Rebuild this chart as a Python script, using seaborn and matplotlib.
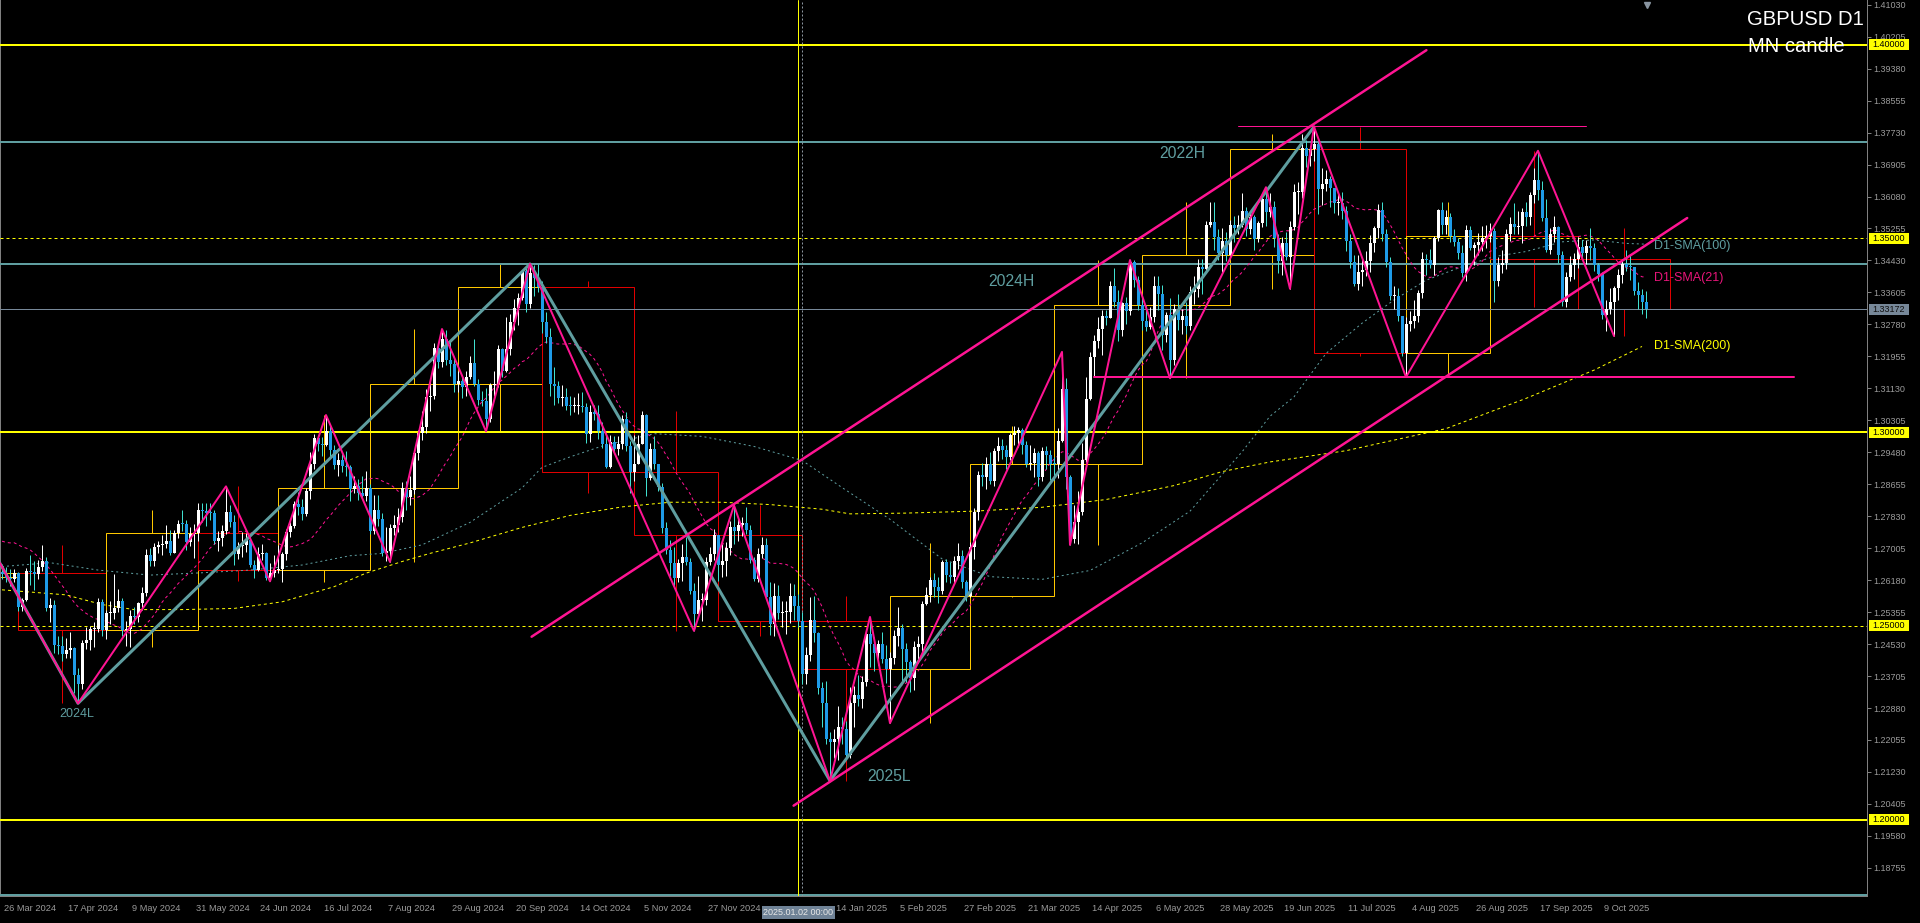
import numpy as np
import pandas as pd
import matplotlib
matplotlib.use("Agg")
import matplotlib.pyplot as plt
import matplotlib.transforms as mtransforms
from matplotlib.patches import Rectangle
import seaborn as sns

# ---------------- data (prices in 1e-4 units) ----------------
hist_start = "2024-03-01"
chart_start = "2024-03-26"
calendar_end = "2025-10-31"
holidays = ["2024-12-25", "2025-01-01"]

close_pips = [
    12634, 12624, 12622, 12637,
    12548, 12568, 12642, 12640, 12633, 12653, 12668, 12546, 12555, 12450, 12447, 12428, 12437, 12443, 12372, 12350, 12456, 12463, 12491, 12493, 12562, 12490,
    12532, 12534, 12545, 12563, 12490, 12492, 12525, 12524, 12558, 12586, 12683, 12667, 12704, 12708, 12710, 12720, 12689, 12739, 12764, 12763, 12716, 12736, 12740,
    12800, 12796, 12792, 12790, 12720, 12726, 12744, 12795, 12767, 12686, 12707, 12708, 12722, 12656, 12645, 12686, 12687, 12624, 12637, 12645,
    12647, 12686, 12743, 12759, 12815, 12806, 12789, 12847, 12917, 12985, 12969, 12967, 13004, 12955, 12915, 12927, 12913, 12909, 12854, 12860, 12844, 12836, 12855,
    12744, 12800, 12776, 12689, 12693, 12753, 12760, 12780, 12856, 12833, 12850, 12945, 12998, 13013, 13090, 13092, 13216, 13180, 13240, 13186, 13175, 13125,
    13131, 13116, 13143, 13178, 13124, 13083, 13081, 13035, 13121, 13123, 13214, 13158, 13215, 13284, 13320, 13347, 13415, 13331, 13411, 13397, 13375,
    13285, 13245, 13123, 13120, 13089, 13091, 13068, 13067, 13068, 13068, 13064, 12994, 13051, 13048, 13003, 12970, 12911, 12975, 12957, 12969, 13033, 12963, 12896,
    12918, 12969, 13044, 12882, 12957, 12917, 12858, 12753, 12696, 12661, 12624, 12663, 12677, 12665, 12590, 12530, 12566, 12567, 12665, 12686, 12735,
    12657, 12668, 12701, 12755, 12744, 12761, 12766, 12748, 12669, 12622, 12686, 12708, 12575, 12504, 12576, 12534, 12535, 12535, 12576, 12552, 12513,
    12375, 12425, 12515, 12482, 12340, 12302, 12208, 12200, 12207, 12239, 12235, 12167, 12300, 12322, 12311, 12355, 12480, 12454, 12430, 12453, 12415, 12389,
    12417, 12475, 12495, 12440, 12406, 12366, 12445, 12452, 12556, 12580, 12618, 12600, 12590, 12665, 12630, 12626, 12667, 12680, 12612, 12576,
    12703, 12793, 12890, 12884, 12917, 12875, 12950, 12965, 12955, 12935, 12992, 12999, 13006, 12967, 12918, 12920, 12946, 12885, 12952, 12941, 12919,
    12918, 12976, 13111, 12885, 12724, 12768, 12793, 12929, 13085, 13194, 13235, 13265, 13300, 13295, 13376, 13335, 13263, 13332, 13312, 13439, 13393, 13327,
    13288, 13272, 13298, 13376, 13357, 13250, 13303, 13186, 13318, 13290, 13300, 13275, 13361, 13370, 13425, 13421, 13535, 13543, 13504, 13461, 13492, 13457,
    13535, 13528, 13535, 13570, 13525, 13556, 13499, 13540, 13602, 13568, 13580, 13500, 13442, 13487, 13453, 13530, 13620, 13620, 13732, 13713, 13731,
    13744, 13628, 13641, 13652, 13629, 13590, 13591, 13571, 13492, 13440, 13382, 13414, 13418, 13441, 13487, 13527, 13573, 13512, 13438, 13350, 13351, 13300, 13203,
    13278, 13287, 13299, 13358, 13448, 13443, 13431, 13500, 13573, 13535, 13555, 13505, 13490, 13461, 13411, 13521, 13475, 13482, 13490, 13500, 13507,
    13520, 13390, 13431, 13437, 13510, 13538, 13530, 13533, 13567, 13555, 13611, 13650, 13624, 13553, 13470, 13510, 13530, 13456, 13335, 13401, 13431, 13448,
    13477, 13463, 13480, 13476, 13430, 13407, 13302, 13317, 13335, 13372, 13405, 13435, 13427, 13425, 13363, 13353, 13336, 13317,
]
high_pips = [
    12659, 12652, 12646, 12646,
    12640, 12571, 12650, 12682, 12668, 12669, 12709, 12679, 12572, 12568, 12474, 12474, 12468, 12483, 12446, 12391, 12464, 12498, 12500, 12509, 12571, 12570,
    12540, 12564, 12634, 12595, 12572, 12512, 12541, 12549, 12562, 12601, 12698, 12701, 12713, 12718, 12734, 12761, 12747, 12747, 12774, 12800, 12774, 12754, 12764,
    12817, 12818, 12818, 12818, 12800, 12745, 12760, 12860, 12812, 12787, 12716, 12742, 12740, 12738, 12670, 12703, 12712, 12690, 12661, 12682,
    12709, 12690, 12749, 12768, 12822, 12845, 12827, 12857, 12948, 12995, 12992, 12987, 13044, 13018, 12967, 12946, 12944, 12952, 12914, 12886, 12880, 12887, 12900,
    12867, 12839, 12839, 12792, 12754, 12763, 12785, 12805, 12872, 12873, 12888, 12954, 13005, 13054, 13111, 13131, 13229, 13226, 13266, 13264, 13232, 13194,
    13157, 13143, 13158, 13196, 13240, 13136, 13106, 13114, 13128, 13157, 13226, 13218, 13297, 13304, 13343, 13359, 13416, 13428, 13434, 13432, 13435,
    13389, 13311, 13269, 13169, 13132, 13122, 13113, 13092, 13090, 13100, 13104, 13075, 13071, 13071, 13069, 13025, 12997, 12993, 12989, 12990, 13043, 13051, 12977,
    12993, 12992, 13054, 13048, 12972, 12990, 12916, 12869, 12769, 12721, 12703, 12672, 12712, 12730, 12676, 12611, 12629, 12585, 12678, 12704, 12749,
    12719, 12711, 12716, 12771, 12811, 12779, 12781, 12807, 12760, 12679, 12702, 12730, 12727, 12614, 12610, 12606, 12563, 12565, 12611, 12607, 12583,
    12535, 12445, 12575, 12576, 12483, 12354, 12358, 12225, 12234, 12292, 12266, 12254, 12342, 12345, 12373, 12370, 12490, 12523, 12471, 12464, 12484, 12451,
    12432, 12489, 12549, 12506, 12457, 12412, 12460, 12475, 12564, 12601, 12627, 12637, 12627, 12671, 12672, 12666, 12681, 12715, 12697, 12619,
    12716, 12805, 12900, 12921, 12937, 12948, 12958, 12988, 12983, 12968, 12999, 13015, 13014, 13010, 12978, 12966, 12960, 12952, 12962, 12965, 12953,
    12937, 13010, 13207, 13140, 12890, 12813, 12849, 12972, 13142, 13208, 13251, 13297, 13316, 13316, 13390, 13423, 13366, 13337, 13349, 13444, 13445, 13402,
    13346, 13327, 13323, 13402, 13402, 13380, 13310, 13345, 13330, 13357, 13317, 13335, 13376, 13402, 13446, 13446, 13544, 13594, 13593, 13523, 13526, 13516,
    13547, 13557, 13561, 13616, 13580, 13568, 13560, 13544, 13617, 13632, 13616, 13597, 13511, 13503, 13516, 13544, 13640, 13646, 13770, 13753, 13738,
    13788, 13750, 13681, 13677, 13662, 13625, 13620, 13620, 13584, 13511, 13456, 13456, 13451, 13467, 13508, 13532, 13589, 13595, 13523, 13452, 13376, 13371, 13294,
    13298, 13313, 13342, 13366, 13465, 13460, 13472, 13505, 13577, 13595, 13572, 13565, 13524, 13500, 13484, 13535, 13531, 13490, 13514, 13533, 13535,
    13540, 13527, 13453, 13470, 13523, 13555, 13591, 13570, 13579, 13593, 13619, 13681, 13726, 13647, 13601, 13528, 13558, 13532, 13467, 13414, 13455, 13461,
    13503, 13496, 13496, 13527, 13487, 13436, 13414, 13340, 13371, 13377, 13422, 13446, 13470, 13457, 13426, 13388, 13369, 13364,
]
low_pips = [
    12620, 12614, 12604, 12612,
    12539, 12538, 12564, 12606, 12593, 12620, 12642, 12538, 12509, 12431, 12427, 12409, 12416, 12418, 12326, 12300, 12337, 12440, 12437, 12446, 12485, 12473,
    12465, 12505, 12518, 12535, 12473, 12447, 12446, 12504, 12511, 12540, 12578, 12655, 12654, 12688, 12682, 12701, 12682, 12687, 12728, 12745, 12696, 12706, 12676,
    12718, 12767, 12758, 12773, 12711, 12694, 12705, 12736, 12756, 12656, 12673, 12678, 12690, 12653, 12624, 12642, 12670, 12618, 12615, 12626,
    12637, 12613, 12671, 12730, 12753, 12786, 12774, 12784, 12827, 12905, 12952, 12938, 12963, 12937, 12904, 12888, 12897, 12888, 12823, 12844, 12826, 12827, 12822,
    12737, 12736, 12758, 12681, 12668, 12665, 12734, 12741, 12769, 12798, 12812, 12840, 12929, 12979, 12999, 13055, 13085, 13165, 13168, 13172, 13146, 13103,
    13103, 13088, 13092, 13137, 13119, 13070, 13068, 13002, 13025, 13094, 13117, 13143, 13154, 13198, 13264, 13277, 13342, 13311, 13320, 13350, 13361,
    13256, 13229, 13093, 13069, 13076, 13068, 13056, 13043, 13051, 13047, 13052, 12973, 12975, 13032, 12983, 12960, 12907, 12908, 12945, 12940, 12957, 12950, 12844,
    12875, 12938, 12969, 12835, 12877, 12904, 12848, 12740, 12685, 12628, 12597, 12612, 12615, 12658, 12583, 12487, 12540, 12513, 12553, 12658, 12669,
    12615, 12626, 12628, 12682, 12710, 12718, 12731, 12737, 12662, 12615, 12612, 12675, 12570, 12476, 12475, 12519, 12497, 12479, 12508, 12516, 12496,
    12350, 12350, 12409, 12458, 12323, 12239, 12195, 12100, 12160, 12155, 12196, 12160, 12159, 12240, 12293, 12288, 12345, 12395, 12383, 12400, 12405, 12352,
    12249, 12402, 12449, 12357, 12356, 12330, 12334, 12403, 12430, 12553, 12561, 12575, 12560, 12583, 12612, 12611, 12608, 12646, 12599, 12565,
    12574, 12673, 12773, 12860, 12852, 12866, 12861, 12925, 12930, 12905, 12928, 12967, 12962, 12943, 12910, 12901, 12884, 12860, 12874, 12904, 12876,
    12877, 12882, 12974, 12853, 12709, 12714, 12710, 12786, 12922, 13084, 13145, 13218, 13200, 13277, 13294, 13324, 13234, 13248, 13280, 13302, 13375, 13315,
    13264, 13261, 13265, 13285, 13316, 13212, 13233, 13139, 13172, 13264, 13252, 13254, 13264, 13330, 13348, 13356, 13410, 13530, 13470, 13445, 13414, 13441,
    13459, 13491, 13510, 13530, 13505, 13510, 13470, 13490, 13530, 13533, 13554, 13477, 13410, 13406, 13444, 13370, 13522, 13562, 13604, 13683, 13687,
    13700, 13563, 13587, 13622, 13581, 13565, 13560, 13551, 13468, 13424, 13378, 13366, 13377, 13403, 13414, 13464, 13502, 13493, 13426, 13340, 13319, 13287, 13197,
    13142, 13262, 13269, 13285, 13347, 13405, 13423, 13406, 13493, 13512, 13510, 13490, 13480, 13447, 13401, 13389, 13470, 13432, 13458, 13468, 13476,
    13490, 13335, 13378, 13410, 13420, 13494, 13510, 13510, 13488, 13531, 13535, 13591, 13600, 13545, 13465, 13460, 13490, 13436, 13325, 13323, 13390, 13396,
    13424, 13445, 13433, 13445, 13415, 13390, 13292, 13261, 13305, 13248, 13340, 13384, 13415, 13392, 13355, 13318, 13306, 13295,
]
prev_close_pip = 12640          # close of 25 Mar 2024 (open of first bar)
month_open_first = 12625        # March 2024 monthly open
pre_closes_pips = [12690, 12650, 12625, 12653, 12688, 12707, 12736, 12806, 12857, 12858,
                   12793, 12795, 12742, 12736, 12722, 12718, 12788, 12652, 12600, 12640]

sma100_idx = [0, 12, 24, 37, 50, 62, 75, 87, 95, 105, 117, 130, 135, 142, 150, 163, 175, 188, 200, 210,
              222, 235, 247, 260, 272, 285, 297, 310, 317, 323, 331, 340, 348, 356, 365, 373, 381, 390, 398, 406, 411]
sma100_val = [1.2653, 1.2663, 1.2644, 1.2631, 1.2637, 1.2644, 1.2657, 1.2681, 1.2687, 1.2709, 1.2767, 1.2856, 1.2909,
              1.2936, 1.2964, 1.2996, 1.2989, 1.2963, 1.2927, 1.2857, 1.2775, 1.2673, 1.2627, 1.2620, 1.2643, 1.2714,
              1.2796, 1.2949, 1.3041, 1.3091, 1.3203, 1.3281, 1.3341, 1.3392, 1.3427, 1.3453, 1.3466, 1.3491, 1.3496,
              1.3487, 1.3485]
sma200_idx = [0, 16, 25, 33, 45, 58, 70, 83, 91, 100, 107, 117, 130, 142, 155, 167, 180, 192, 205, 212,
              226, 243, 260, 276, 293, 305, 317, 336, 361, 381, 398, 410]
sma200_val = [1.2593, 1.2580, 1.2555, 1.2542, 1.2542, 1.2545, 1.2562, 1.2601, 1.2636, 1.2666, 1.2687, 1.2714,
              1.2754, 1.2785, 1.2807, 1.2819, 1.2819, 1.2813, 1.2801, 1.2789, 1.2791, 1.2796, 1.2806, 1.2826,
              1.2862, 1.2898, 1.2923, 1.2952, 1.3009, 1.3087, 1.3160, 1.3221]

pink_zz_idx = [-13, 19, 56, 67, 81, 97, 110, 121, 132, 173, 183, 207, 217, 222, 265, 267, 282, 292, 316, 322, 328, 351, 384, 403]
pink_zz_val = [1.2893, 1.2300, 1.2860, 1.2615, 1.3044, 1.2665, 1.3266, 1.3002, 1.3434, 1.2487, 1.2811, 1.2100,
               1.2523, 1.2249, 1.3207, 1.2709, 1.3444, 1.3139, 1.3632, 1.3370, 1.3788, 1.3142, 1.3726, 1.3248]
teal_zz_idx = [-13, 19, 132, 207, 328]
teal_zz_val = [1.2893, 1.2300, 1.3434, 1.2100, 1.3788]

channel_upper = ([132.4, 356.1], [1.2472, 1.39856])
channel_lower = ([197.9, 421.3], [1.2036, 1.35525])
range_top = ([309, 396], [1.3791, 1.3791])
range_bottom = ([273, 448], [1.3142, 1.3142])

round_levels_solid = [1.40, 1.30, 1.20]
round_levels_dashed = [1.35, 1.25]
year_levels = [1.3749, 1.3434]
bid_price = 1.33172
tick_prices = [round(1.41030 - k * 0.00825, 5) for k in range(28)]

swing_labels = [("2022H", 295, 1.3720, 11.3), ("2024H", 252.25, 1.3389, 11.3),
                ("2024L", 18.75, 1.2272, 9.0), ("2025L", 221.75, 1.2112, 11.3)]
sma_labels = [("D1-SMA(100)", 1.34801, "#5F9EA0"), ("D1-SMA(21)", 1.33969, "#E8157A"),
              ("D1-SMA(200)", 1.32222, "#FFFF00")]
crosshair_bar = 200
crosshair_text = "2025.01.02 00:00"

# ---------------- derived ----------------
all_dates = pd.bdate_range(hist_start, calendar_end)
all_dates = all_dates[~all_dates.isin(pd.to_datetime(holidays))]
offset = all_dates.get_loc(pd.Timestamp(chart_start))
n = len(close_pips)
dates = all_dates[offset:offset + n]

c = np.array(close_pips) / 1e4
o = np.r_[prev_close_pip / 1e4, c[:-1]]
h = np.maximum.reduce([np.array(high_pips) / 1e4, o, c])
l = np.minimum.reduce([np.array(low_pips) / 1e4, o, c])
x = np.arange(n)

sma21 = pd.Series(np.r_[np.array(pre_closes_pips) / 1e4, c]).rolling(21).mean().values[-n:]

# ---------------- figure ----------------
sns.set_style("dark", {"axes.facecolor": "black", "figure.facecolor": "black"})
plt.rcParams["font.family"] = ["Liberation Sans", "DejaVu Sans"]

W, H = 1920, 923
PPU = 3875.0  # pixels per price unit
fig = plt.figure(figsize=(W / 100, H / 100), dpi=100, facecolor="black")
ax_right_px, ax_bottom_px = 1867, 896
ax = fig.add_axes([0, (H - ax_bottom_px) / H, ax_right_px / W, ax_bottom_px / H])
ax.set_facecolor("black")
ax.grid(False)
y_top = 1.41030 + 4.7 / PPU
y_bot = 1.41030 - (ax_bottom_px - 4.7) / PPU
ax.set_xlim(-0.5, (ax_right_px - 2) / 4)
ax.set_ylim(y_bot, y_top)

PX = 0.72  # one pixel in points

# horizontal levels
for p in round_levels_solid:
    ax.axhline(p, color="#FFFF00", lw=2 * PX, zorder=3)
for p in round_levels_dashed:
    ax.axhline(p, color="#FFFF00", lw=1 * PX, dashes=(3, 3), zorder=3)
for p in year_levels:
    ax.axhline(p, color="#5F9EA0", lw=2 * PX, zorder=3)
ax.axhline(bid_price, color="#778899", lw=1 * PX, zorder=3)
ax.axhline(y_bot + 1.5 / PPU, color="#5F9EA0", lw=2 * PX, zorder=3)

# vertical lines
ax.axvline(crosshair_bar - 1, color="#FFFF00", lw=1 * PX, zorder=3)
ax.axvline(crosshair_bar, color="#8C96A0", lw=1 * PX, dashes=(2, 2), zorder=3)

# monthly candles
per = all_dates.to_period("M")
for pm in per.unique():
    sel = np.where(per == pm)[0] - offset
    first, last = sel.min(), sel.max()
    inview = sel[(sel >= 0) & (sel < n)]
    if len(inview) == 0:
        continue
    mo = month_open_first / 1e4 if first < 0 else o[inview[0]]
    mc = c[inview[-1]]
    mh, ml = h[inview].max(), l[inview].min()
    col = "#FFC800" if mc >= mo else "#E00000"
    lo_b, hi_b = min(mo, mc), max(mo, mc)
    ax.add_patch(Rectangle((first, lo_b), last + 1 - first, max(hi_b - lo_b, 1 / PPU),
                           fill=False, edgecolor=col, lw=1 * PX, zorder=2))
    mid = (first + last + 1) / 2
    ax.vlines([mid, mid], [hi_b, ml], [mh, lo_b], color=col, lw=1 * PX, zorder=2)

# moving averages (seaborn)
sns.lineplot(x=x, y=sma21, ax=ax, color="#FF1493", lw=1 * PX, linestyle=(0, (3, 3)), zorder=4)
sns.lineplot(x=sma100_idx, y=sma100_val, ax=ax, color="#5F9EA0", lw=1 * PX, linestyle=(0, (2, 3)), zorder=4)
sns.lineplot(x=sma200_idx, y=sma200_val, ax=ax, color="#FFFF00", lw=1 * PX, linestyle=(0, (3, 3)), zorder=4)

# zigzags and channel
ax.plot(teal_zz_idx, teal_zz_val, color="#5F9EA0", lw=3 * PX, zorder=7, solid_capstyle="round")
ax.plot(pink_zz_idx, pink_zz_val, color="#FF1493", lw=2 * PX, zorder=8)
ax.plot(*channel_upper, color="#FF1493", lw=2.5 * PX, zorder=8)
ax.plot(*channel_lower, color="#FF1493", lw=2.5 * PX, zorder=8)
ax.plot(*range_top, color="#FF1493", lw=1 * PX, zorder=8)
ax.plot(*range_bottom, color="#FF1493", lw=2 * PX, zorder=8)

# daily candles
up = c >= o
body_lo = np.minimum(o, c)
body_h = np.maximum(np.abs(c - o), 1 / PPU)
ax.vlines(x[up], l[up], h[up], color="#FFFFFF", lw=1 * PX, zorder=5)
ax.vlines(x[~up], l[~up], h[~up], color="#40E0D0", lw=1 * PX, zorder=5)
ax.bar(x[up], body_h[up], bottom=body_lo[up], width=0.75, color="#FFFFFF", lw=0, zorder=6)
ax.bar(x[~up], body_h[~up], bottom=body_lo[~up], width=0.75, color="#1E9BE8", lw=0, zorder=6)

# texts
for t, xi, yp, fs in swing_labels:
    ax.text(xi, yp, t, color="#5F9EA0", fontsize=fs, ha="center", va="center", zorder=9)
for t, yp, col in sma_labels:
    ax.text(413, yp, t, color=col, fontsize=9, ha="left", va="center", zorder=9)
fig.text(1747 / W, 1 - 25 / H, "GBPUSD D1", color="white", fontsize=14.6, ha="left", va="baseline")
fig.text(1748 / W, 1 - 51.5 / H, "MN candle", color="white", fontsize=14.6, ha="left", va="baseline")
ax.plot([411.25], [y_top - 5 / PPU], marker="v", color="#8894A0", ms=5, clip_on=False, zorder=9)

# axes styling
ax.spines["top"].set_visible(False)
for s in ["right", "bottom", "left"]:
    ax.spines[s].set_color("#808080")
    ax.spines[s].set_linewidth(1 * PX)

ax.yaxis.tick_right()
ax.set_yticks(tick_prices)
ax.set_yticklabels([f"{p:.5f}" for p in tick_prices])
ax.tick_params(axis="y", direction="out", length=4 * PX, width=1 * PX, color="#808080",
               labelcolor="#9B9B9B", labelsize=6.5, pad=2, left=False, right=True)

xt = list(range(0, 401, 16))
ax.set_xticks(xt)
# the date label directly under the crosshair tag is covered by it in the reference
xt_labels = ["" if crosshair_bar - 16 < i < crosshair_bar else f"{dates[i].day} {dates[i]:%b %Y}" for i in xt]
ax.set_xticklabels(xt_labels)
ax.tick_params(axis="x", direction="out", length=5 * PX, width=1 * PX, color="#808080",
               labelcolor="#9B9B9B", labelsize=6.7, pad=2)
shift = mtransforms.ScaledTranslation(2 / 100, 0, fig.dpi_scale_trans)
for lab in ax.get_xticklabels():
    lab.set_ha("left")
    lab.set_transform(lab.get_transform() + shift)
ax.set_xlabel("")
ax.set_ylabel("")

# price tags on the right axis
tag_tr = mtransforms.blended_transform_factory(fig.transFigure, ax.transData)
def tag(p, bg, fg):
    ax.add_patch(Rectangle((1869 / W, p - 5.5 / PPU), 40 / W, 11 / PPU, transform=tag_tr,
                           facecolor=bg, edgecolor="none", clip_on=False, zorder=20))
    ax.text(1889 / W, p, f"{p:.5f}", transform=tag_tr, color=fg, fontsize=6.5,
            ha="center", va="center", clip_on=False, zorder=21)
for p in round_levels_solid + round_levels_dashed:
    tag(p, "#FFFF00", "black")
tag(bid_price, "#778899", "#101010")

# crosshair date label on time axis
xt_tr = mtransforms.blended_transform_factory(ax.transData, fig.transFigure)
ax.add_patch(Rectangle((crosshair_bar - 10, 1 - 919 / H), 73 / 4, 13 / H, transform=xt_tr, facecolor="#6F8296",
                       edgecolor="none", clip_on=False, zorder=20))
ax.text(crosshair_bar - 0.9, 1 - 912.5 / H, crosshair_text, transform=xt_tr, color="#E8E8E8", fontsize=6.5,
        ha="center", va="center", clip_on=False, zorder=21)

fig.savefig("out.png", dpi=100, facecolor="black")
